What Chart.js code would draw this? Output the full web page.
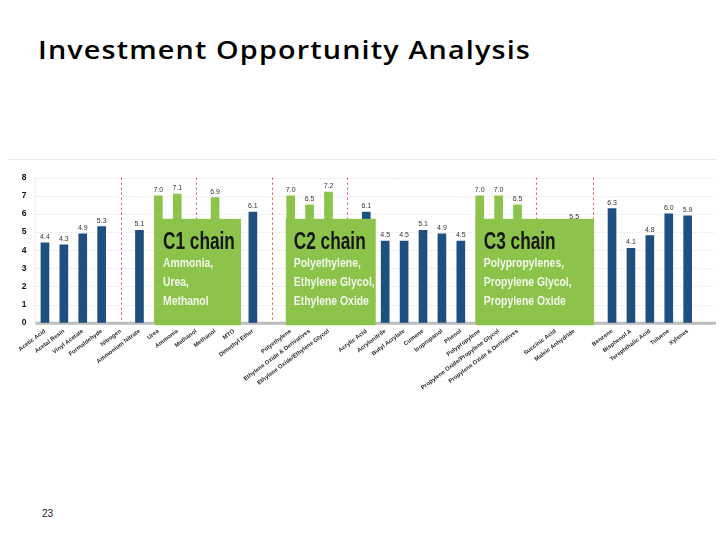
<!DOCTYPE html>
<html>
<head>
<meta charset="utf-8">
<script src="https://cdn.jsdelivr.net/npm/chart.js@4.4.1/dist/chart.umd.min.js"></script>
<style>
  html, body { margin: 0; padding: 0; background: #fff; }
  body { width: 720px; height: 540px; position: relative; overflow: hidden; }
  #title {
    position: absolute; left: 38px; top: 32px;
    font-family: "Open Sans", sans-serif; font-weight: 600; font-size: 25px;
    letter-spacing: 1px; color: #000; white-space: nowrap;
    transform: scaleX(1.15); transform-origin: 0 0;
  }
  #page {
    position: absolute; left: 42px; top: 508px;
    font-family: "Liberation Sans", sans-serif; font-size: 10px; color: #222;
  }
  #wrap { position: absolute; left: 0; top: 150px; width: 720px; height: 250px; }
</style>
</head>
<body>
<div id="title">Investment Opportunity Analysis</div>
<div id="page">23</div>
<div id="wrap"><canvas id="chart"></canvas></div>

<script>
const categories = [
  "Acetic Acid", "Acetal Resin", "Vinyl Acetate", "Formaldehyde", "Nitrogen",
  "Ammonium Nitrate", "Urea", "Ammonia", "Methanol", "Methanol", "MTO",
  "Dimethyl Ether", "", "Polyethylene", "Ethylene Oxide & Derivatives",
  "Ethylene Oxide/Ethylene Glycol", "", "Acrylic Acid", "Acrylonitrile",
  "Butyl Acrylate", "Cumene", "Isopropanol", "Phenol", "Polypropylene",
  "Propylene Oxide/Propylene Glycol", "Propylene Oxide & Derivatives", "",
  "Succinic Acid", "Maleic Anhydride", "", "Benzene", "Bisphenol A",
  "Terephthalic Acid", "Toluene", "Xylenes"
];
const scores = [
  4.4, 4.3, 4.9, 5.3, null, 5.1, 7.0, 7.1, null, 6.9, null, 6.1, null,
  7.0, 6.5, 7.2, null, 6.1, 4.5, 4.5, 5.1, 4.9, 4.5, 7.0, 7.0, 6.5, null,
  null, 5.5, null, 6.3, 4.1, 4.8, 6.0, 5.9
];
// bars that belong to a chain box (drawn green)
const chainBars = [6, 7, 9, 13, 14, 15, 23, 24, 25];
// dotted red group separators (category index)
const separators = [4, 8, 12, 16, 26, 29];

const chainTitles = ["C1 chain", "C2 chain", "C3 chain"];
const chainLines = [
  ["Ammonia,", "Urea,", "Methanol"],
  ["Polyethylene,", "Ethylene Glycol,", "Ethylene Oxide"],
  ["Polypropylenes,", "Propylene Glycol,", "Propylene Oxide"]
];
// box extents in category units, and box height in score units
const chainFrom = [5.82, 12.74, 22.79];
const chainTo   = [10.37, 17.5, 29.05];
const chainTop  = 5.73;

const BLUE  = "#1f4e80";
const GREEN = "#8cc34a";

const deco = {
  id: "deco",
  beforeDatasetsDraw(chart) {
    const { ctx, chartArea: a, scales: { x, y } } = chart;
    ctx.save();
    // faint frame of the pasted picture
    ctx.strokeStyle = "#ececec";
    ctx.lineWidth = 1;
    ctx.beginPath();
    ctx.moveTo(8, 9.5); ctx.lineTo(a.right, 9.5);
    ctx.moveTo(a.left - 0.5, a.top); ctx.lineTo(a.left - 0.5, a.bottom);
    ctx.stroke();
    // dotted grid
    ctx.strokeStyle = "#d6d6d6";
    ctx.setLineDash([1, 2]);
    for (let v = 1; v <= 8; v++) {
      const py = Math.round(y.getPixelForValue(v)) + 0.5;
      ctx.beginPath(); ctx.moveTo(a.left, py); ctx.lineTo(a.right, py); ctx.stroke();
    }
    // red separators
    ctx.strokeStyle = "#d9534f";
    ctx.setLineDash([2, 3]);
    for (const s of separators) {
      const px = Math.round(x.getPixelForValue(s)) + 0.5;
      ctx.beginPath(); ctx.moveTo(px, y.getPixelForValue(8)); ctx.lineTo(px, y.getPixelForValue(0)); ctx.stroke();
    }
    // zero line
    ctx.setLineDash([]);
    ctx.strokeStyle = "#bdbdbd";
    ctx.lineWidth = 3;
    const y0 = y.getPixelForValue(0) + 0.5;
    ctx.beginPath(); ctx.moveTo(a.left, y0); ctx.lineTo(a.right, y0); ctx.stroke();
    ctx.restore();
  },
  afterDatasetsDraw(chart) {
    const { ctx, scales: { x, y } } = chart;
    ctx.save();
    const top = y.getPixelForValue(chainTop);
    const bottom = y.getPixelForValue(0) + 2.5;
    chainFrom.forEach((from, i) => {
      const left = x.getPixelForValue(from);
      const right = x.getPixelForValue(chainTo[i]);
      ctx.fillStyle = GREEN;
      ctx.fillRect(left, top, right - left, bottom - top);

      ctx.textBaseline = "alphabetic";
      ctx.textAlign = "left";
      ctx.save();
      ctx.translate(left + 8, top + 30);
      ctx.scale(0.75, 1);
      ctx.fillStyle = "#161616";
      ctx.font = "bold 23px 'Liberation Sans', sans-serif";
      ctx.fillText(chainTitles[i], 0, 0);
      ctx.restore();

      chainLines[i].forEach((line, k) => {
        ctx.save();
        ctx.translate(left + 8, top + 48 + k * 19);
        ctx.scale(0.8, 1);
        ctx.fillStyle = "#f3f8ec";
        ctx.font = "bold 13px 'Liberation Sans', sans-serif";
        ctx.fillText(line, 0, 0);
        ctx.restore();
      });
    });

    // value labels
    ctx.fillStyle = "#333";
    ctx.font = "7px 'Liberation Sans', sans-serif";
    ctx.textAlign = "center";
    ctx.textBaseline = "alphabetic";
    scores.forEach((v, i) => {
      if (v === null) return;
      ctx.fillText(v.toFixed(1), x.getPixelForValue(i), y.getPixelForValue(v) - 4);
    });
    ctx.restore();
  }
};

new Chart(document.getElementById("chart"), {
  type: "bar",
  data: {
    datasets: [{
      data: scores.map((v, i) => ({ x: i, y: v })),
      backgroundColor: scores.map((v, i) => chainBars.includes(i) ? GREEN : BLUE),
      barThickness: 8,
      borderWidth: 0
    }]
  },
  options: {
    responsive: true,
    maintainAspectRatio: false,
    animation: false,
    layout: { padding: { top: 27.7, right: 4, left: 0, bottom: 0 } },
    plugins: { legend: { display: false }, tooltip: { enabled: false } },
    scales: {
      x: {
        type: "linear",
        min: -0.5,
        max: 35.5,
        offset: false,
        grid: { display: false },
        border: { display: false },
        afterBuildTicks: scale => { scale.ticks = categories.map((_, i) => ({ value: i })); },
        afterFit: scale => { scale.height = 77.3; },
        ticks: {
          autoSkip: false,
          minRotation: 37,
          maxRotation: 37,
          padding: -3,
          color: "#2a2a2a",
          font: { family: "'Liberation Sans', sans-serif", size: 5.9, weight: "bold" },
          callback: v => categories[v] ?? ""
        }
      },
      y: {
        min: 0,
        max: 8,
        grid: { display: false, drawTicks: false },
        border: { display: false },
        afterFit: scale => { scale.width = 35.5; },
        ticks: {
          stepSize: 1,
          padding: 9,
          color: "#111",
          font: { family: "'Liberation Sans', sans-serif", size: 8.5, weight: "bold" }
        }
      }
    }
  },
  plugins: [deco]
});
</script>
</body>
</html>
